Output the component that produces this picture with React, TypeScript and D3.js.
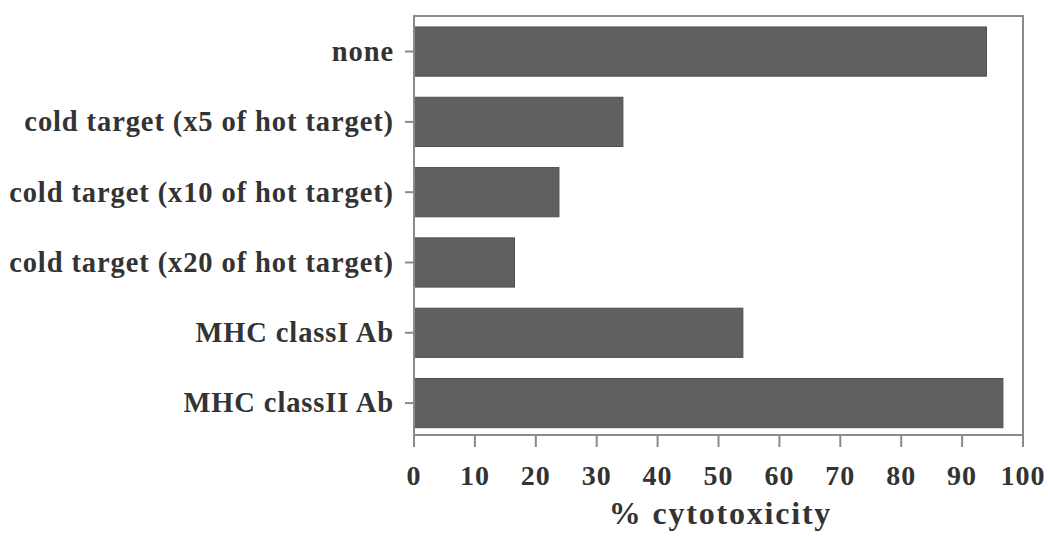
import React from "react";
import * as d3 from "d3";

const categories = [
  "none",
  "cold target (x5 of hot target)",
  "cold target (x10 of hot target)",
  "cold target (x20 of hot target)",
  "MHC classI Ab",
  "MHC classII Ab",
];
const values = [94.0, 34.3, 23.8, 16.5, 54.0, 96.7];
const xTicks = [0, 10, 20, 30, 40, 50, 60, 70, 80, 90, 100];
const xTitle = "% cytotoxicity";

const W = 1048;
const H = 536;
const left = 414;
const right = 1023;
const top = 16;
const bottom = 435;

export default function App() {
  const x = d3.scaleLinear().domain([0, 100]).range([left, right]);
  const y = d3
    .scaleBand<string>()
    .domain(categories)
    .range([top, bottom])
    .paddingInner(0.3)
    .paddingOuter(0.13)
    .align(0.6);
  const font = "'Liberation Serif', 'Times New Roman', serif";
  const textColor = "#333";
  const axisColor = "#8a8a8c";
  return (
    <svg
      width={W}
      height={H}
      style={{ position: "absolute", left: 0, top: 0, background: "#fff" }}
      fontFamily={font}
    >
      {/* bars */}
      {categories.map((c, i) => (
        <rect
          key={c}
          x={x(0)}
          y={y(c)!}
          width={x(values[i]) - x(0)}
          height={y.bandwidth()}
          fill="#606062"
          stroke="#4e4e50"
          strokeWidth={1}
        />
      ))}
      {/* frame */}
      <rect
        x={left}
        y={top}
        width={right - left}
        height={bottom - top}
        fill="none"
        stroke={axisColor}
        strokeWidth={2}
      />
      {/* y ticks and labels */}
      {categories.map((c) => {
        const cy = y(c)! + y.bandwidth() / 2;
        return (
          <g key={c}>
            <line x1={left - 9} x2={left} y1={cy} y2={cy} stroke={axisColor} strokeWidth={2} />
            <text
              x={left - 20}
              y={cy}
              dy="0.33em"
              textAnchor="end"
              fontSize={28.5}
              letterSpacing={0.9}
              fontWeight="bold"
              fill={textColor}
            >
              {c}
            </text>
          </g>
        );
      })}
      {/* x ticks */}
      {xTicks.map((t) => (
        <g key={t}>
          <line x1={x(t)} x2={x(t)} y1={bottom} y2={bottom + 12} stroke={axisColor} strokeWidth={2} />
          <text
            x={x(t)}
            y={bottom + 50}
            textAnchor="middle"
            fontSize={28}
            letterSpacing={1}
            fontWeight="bold"
            fill={textColor}
          >
            {t}
          </text>
        </g>
      ))}
      <text
        x={(left + right) / 2 + 2}
        y={H - 12}
        textAnchor="middle"
        fontSize={32}
        letterSpacing={1.8}
        fontWeight="bold"
        fill={textColor}
      >
        {xTitle}
      </text>
    </svg>
  );
}
